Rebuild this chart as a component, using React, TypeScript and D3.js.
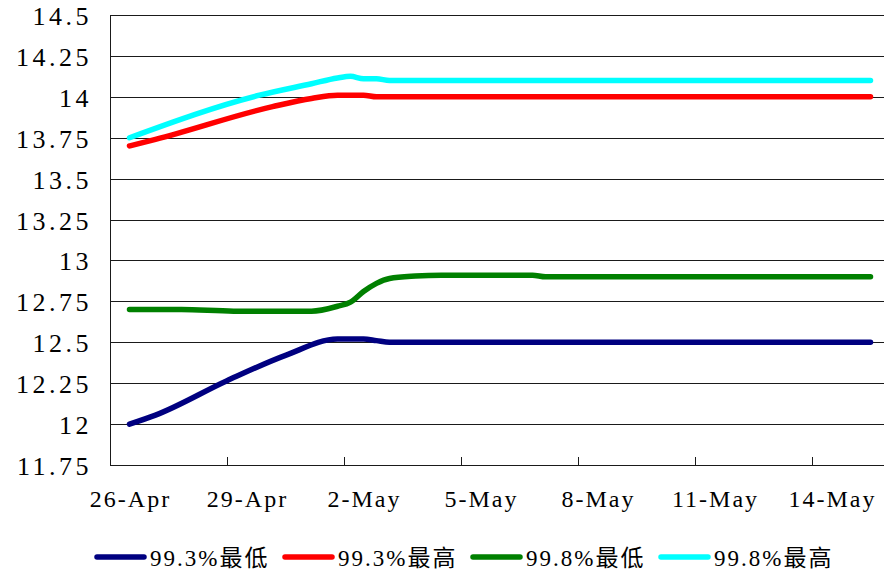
import React, { useEffect, useRef } from "react";
import * as d3 from "d3";

// category labels (one per day, 26-Apr .. 15-May)
const dates = [
  "26-Apr", "27-Apr", "28-Apr", "29-Apr", "30-Apr", "1-May", "2-May", "3-May",
  "4-May", "5-May", "6-May", "7-May", "8-May", "9-May", "10-May", "11-May",
  "12-May", "13-May", "14-May", "15-May",
];

// readings are taken a few times a day, offsets in days from 26-Apr
const low993Days = [0, 0.667, 2.5, 4, 5.333, 6, 6.333, 6.667, 19];
const low993 = [12.0, 12.055, 12.265, 12.42, 12.52, 12.52, 12.51, 12.5, 12.5];

const high993Days = [0, 0.667, 3.667, 4.667, 5.333, 6, 6.333, 19];
const high993 = [13.7, 13.74, 13.94, 13.99, 14.01, 14.01, 14.0, 14.0];

const low998Days = [0, 1.333, 2.667, 4.667, 5.333, 5.667, 6, 6.333, 6.667, 7.333, 8, 10.333, 10.667, 19];
const low998 = [12.7, 12.7, 12.69, 12.69, 12.72, 12.745, 12.81, 12.86, 12.89, 12.905, 12.91, 12.91, 12.9, 12.9];

const high998Days = [0, 3.333, 4.667, 5.333, 5.667, 6, 6.333, 6.667, 19];
const high998 = [13.75, 14.01, 14.08, 14.115, 14.125, 14.11, 14.11, 14.1, 14.1];

const yTicks = [11.75, 12, 12.25, 12.5, 12.75, 13, 13.25, 13.5, 13.75, 14, 14.25, 14.5];
const yTickLabels = ["11.75", "12", "12.25", "12.5", "12.75", "13", "13.25", "13.5", "13.75", "14", "14.25", "14.5"];

const seriesNames = ["99.3%最低", "99.3%最高", "99.8%最低", "99.8%最高"];
const seriesColors = ["#000080", "#ff0000", "#008000", "#00ffff"];

const FONT = "'Liberation Serif', 'DejaVu Serif', serif";

const App = () => {
  const ref = useRef<SVGSVGElement>(null);

  useEffect(() => {
    const svg = d3.select(ref.current);
    svg.selectAll("*").remove();

    const left = 110,
      top = 15,
      bottom = 465,
      right = 890;

    const x = d3.scaleLinear().domain([-0.5, dates.length - 0.5]).range([left, right]);
    const y = d3.scaleLinear().domain([11.75, 14.5]).range([bottom, top]);

    // horizontal grid
    svg
      .append("g")
      .selectAll("line")
      .data(yTicks)
      .enter()
      .append("line")
      .attr("x1", left)
      .attr("x2", right)
      .attr("y1", (d) => Math.round(y(d)) + 0.5)
      .attr("y2", (d) => Math.round(y(d)) + 0.5)
      .attr("stroke", "#1a1a1a")
      .attr("stroke-width", 1);

    // y axis line
    svg
      .append("line")
      .attr("x1", left + 0.5)
      .attr("x2", left + 0.5)
      .attr("y1", top)
      .attr("y2", bottom + 1)
      .attr("stroke", "#1a1a1a");

    // y labels
    svg
      .append("g")
      .selectAll("text")
      .data(yTicks)
      .enter()
      .append("text")
      .attr("x", 92)
      .attr("y", (d) => y(d) + 10)
      .attr("text-anchor", "end")
      .style("font-family", FONT)
      .style("font-size", "26px")
      .style("letter-spacing", "3.5px")
      .style("fill", "#000")
      .text((d, i) => yTickLabels[i]);

    // x tick marks every 3 days, on day boundaries
    const tickDays = d3.range(3, dates.length, 3);
    svg
      .append("g")
      .selectAll("line")
      .data(tickDays)
      .enter()
      .append("line")
      .attr("x1", (d) => Math.round(x(d - 0.5)) + 0.5)
      .attr("x2", (d) => Math.round(x(d - 0.5)) + 0.5)
      .attr("y1", bottom - 8)
      .attr("y2", bottom)
      .attr("stroke", "#1a1a1a");

    // x labels
    svg
      .append("g")
      .selectAll("text")
      .data(d3.range(0, dates.length, 3))
      .enter()
      .append("text")
      .attr("x", (d) => x(d) + 1)
      .attr("y", 507)
      .attr("text-anchor", "middle")
      .style("font-family", FONT)
      .style("font-size", "24px")
      .style("letter-spacing", "2px")
      .style("fill", "#000")
      .text((d) => dates[d]);

    // series
    const allDays = [low993Days, high993Days, low998Days, high998Days];
    const allValues = [low993, high993, low998, high998];
    const line = d3
      .line<[number, number]>()
      .x((d) => x(d[0]))
      .y((d) => y(d[1]))
      .curve(d3.curveMonotoneX);

    allValues.forEach((vals, i) => {
      const pts: [number, number][] = vals.map((v, j) => [allDays[i][j], v]);
      svg
        .append("path")
        .attr("d", line(pts))
        .attr("fill", "none")
        .attr("stroke", seriesColors[i])
        .attr("stroke-width", 5.5)
        .attr("stroke-linecap", "round")
        .attr("stroke-linejoin", "round");
    });

    // legend
    const legendX = [95, 283, 471, 659];
    const lg = svg.append("g");
    seriesNames.forEach((name, i) => {
      lg.append("line")
        .attr("x1", legendX[i] + 2)
        .attr("x2", legendX[i] + 49)
        .attr("y1", 557)
        .attr("y2", 557)
        .attr("stroke", seriesColors[i])
        .attr("stroke-width", 5.5)
        .attr("stroke-linecap", "round");
      lg.append("text")
        .attr("x", legendX[i] + 55)
        .attr("y", 566)
        .style("font-family", "'Liberation Serif', 'Noto Sans CJK SC', serif")
        .style("font-size", "23px")
        .style("letter-spacing", "2px")
        .style("fill", "#000")
        .text(name);
    });
  }, []);

  return (
    <svg
      ref={ref}
      width={884}
      height={571}
      style={{ position: "absolute", left: 0, top: 0, background: "#fff" }}
    ></svg>
  );
};

export default App;
